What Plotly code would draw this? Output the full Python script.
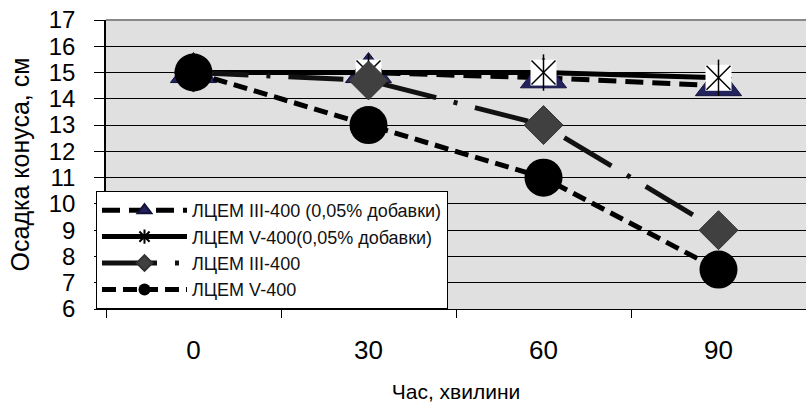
import plotly.graph_objects as go

categories = ["0", "30", "60", "90"]
s1_name = "ЛЦЕМ III-400 (0,05% добавки)"
s1 = [15, 15, 14.8, 14.5]
s2_name = "ЛЦЕМ V-400(0,05% добавки)"
s2 = [15, 15, 15, 14.8]
s3_name = "ЛЦЕМ III-400"
s3 = [15, 14.7, 13, 9]
s4_name = "ЛЦЕМ V-400"
s4 = [15, 13, 11, 7.5]
y_ticks = list(range(6, 18))
x_title = "Час, хвилини"
y_title = "Осадка конуса, см"

FONT = "Liberation Sans, Arial, sans-serif"

fig = go.Figure()

# Series 1: dashed line, navy triangles
fig.add_trace(go.Scatter(
    x=categories, y=s1, name=s1_name, mode="lines+markers",
    line=dict(color="black", width=5, dash="18px,9px"),
    marker=dict(symbol="triangle-up", size=40, color="#22225c",
                line=dict(color="#11113a", width=1)),
    legendgroup="g1"))

# Series 2: solid line, star markers on white box
fig.add_trace(go.Scatter(
    x=categories, y=s2, name=s2_name, mode="lines+markers",
    line=dict(color="black", width=5),
    marker=dict(symbol="asterisk-open", size=22, color="black",
                line=dict(color="black", width=1.5)),
    legendgroup="g2"))
fig.add_trace(go.Scatter(
    x=categories, y=s2, mode="markers", showlegend=False, hoverinfo="skip",
    marker=dict(symbol="square", size=26, color="white", line=dict(width=0)),
    legendgroup="g2"))
fig.add_trace(go.Scatter(
    x=categories, y=s2, mode="markers", showlegend=False, hoverinfo="skip",
    marker=dict(symbol="x-thin-open", size=24, color="black",
                line=dict(color="black", width=1.5)),
    legendgroup="g2"))
fig.add_trace(go.Scatter(
    x=categories, y=s2, mode="markers", showlegend=False, hoverinfo="skip",
    marker=dict(symbol="line-ns-open", size=26, color="black",
                line=dict(color="black", width=1.5)),
    legendgroup="g2"))

# Series 3: long dash-dot line, dark grey diamonds
fig.add_trace(go.Scatter(
    x=categories, y=s3, name=s3_name, mode="lines+markers",
    line=dict(color="#111111", width=5, dash="55px,18px,4px,18px"),
    marker=dict(symbol="diamond", size=30, color="#404040",
                line=dict(color="#333333", width=1)),
    legendgroup="g3"))

# Series 4: short dashed line, black circles
fig.add_trace(go.Scatter(
    x=categories, y=s4, name=s4_name, mode="lines+markers",
    line=dict(color="black", width=5, dash="14px,7px"),
    marker=dict(symbol="circle", size=38, color="black"),
    legendgroup="g4"))

fig.update_layout(
    width=806, height=403,
    margin=dict(l=106, r=0, t=20, b=94),
    paper_bgcolor="white",
    plot_bgcolor="#e0e0e0",
    font=dict(family=FONT, color="black"),
    showlegend=True,
    legend=dict(
        x=-0.0143, xanchor="left", y=0.0, yanchor="bottom",
        bgcolor="white", bordercolor="black", borderwidth=1,
        font=dict(family=FONT, size=18, color="#111111"),
        itemsizing="constant", tracegroupgap=0, itemwidth=85,
    ),
    xaxis=dict(
        type="category", range=[-0.5, 3.5],
        showgrid=False, zeroline=False,
        showline=True, linecolor="black", linewidth=1,
        ticks="outside", ticklen=8, tickcolor="black", tickson="boundaries",
        tickfont=dict(size=26, family=FONT),
        ticklabelstandoff=18,
        title=dict(text=x_title, font=dict(size=21, family=FONT), standoff=20),
    ),
    yaxis=dict(
        range=[6, 17], tickvals=y_ticks,
        showgrid=True, gridcolor="black", gridwidth=1,
        zeroline=False,
        showline=True, linecolor="black", linewidth=1.5,
        ticks="outside", ticklen=10, tickcolor="black",
        tickfont=dict(size=24, family=FONT),
        ticklabelstandoff=14,
        title=dict(text=y_title, font=dict(size=25, family=FONT), standoff=12),
    ),
    shapes=[dict(type="line", xref="paper", yref="paper", x0=0, x1=1, y0=1, y1=1,
                 line=dict(color="#888888", width=2), layer="above")],
)

fig.write_html("out.html")
